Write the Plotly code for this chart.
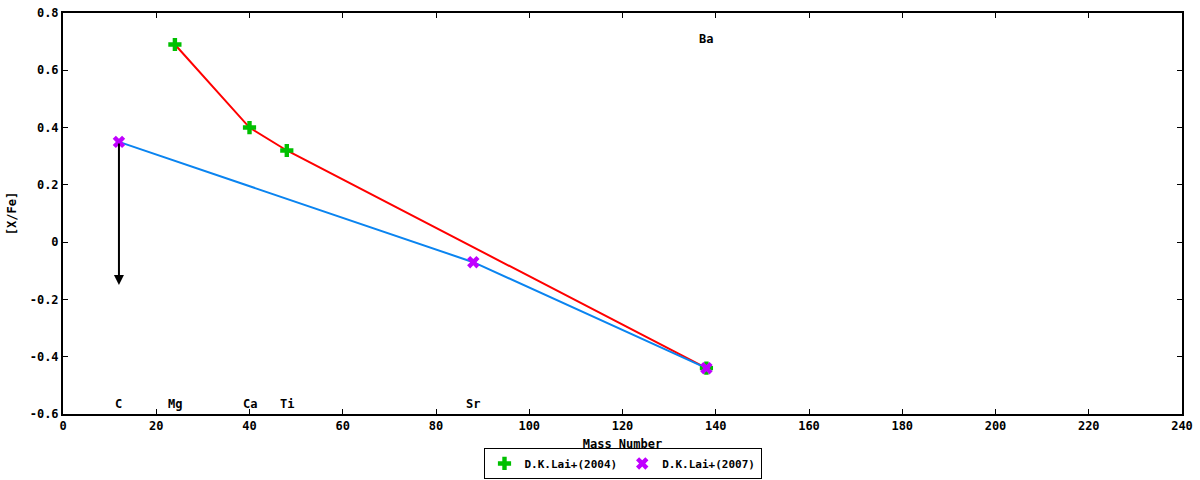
import plotly.graph_objects as go

# Data
lai2004_elements = ["Mg", "Ca", "Ti", "Ba"]
lai2004_mass = [24, 40, 48, 138]
lai2004_xfe = [0.69, 0.40, 0.32, -0.44]

lai2007_elements = ["C", "Sr", "Ba"]
lai2007_mass = [12, 88, 138]
lai2007_xfe = [0.35, -0.07, -0.44]

# upper limit arrow for C
c_limit_mass = 12
c_limit_from = 0.35
c_limit_to = -0.15

label_elements = ["C", "Mg", "Ca", "Ti", "Sr", "Ba"]
label_mass = [12, 24, 40, 48, 88, 138]
label_y = [-0.565, -0.565, -0.565, -0.565, -0.565, 0.71]

y_ticks = [0.8, 0.6, 0.4, 0.2, 0, -0.2, -0.4, -0.6]
y_ticktext = ["0.8", "0.6", "0.4", "0.2", "0", "-0.2", "-0.4", "-0.6"]
x_ticks = list(range(0, 241, 20))

FONT = "DejaVu Sans Mono"
FS = 12

fig = go.Figure()

fig.add_trace(go.Scatter(
    x=lai2004_mass, y=lai2004_xfe, mode="lines",
    line=dict(color="#ff0000", width=2), showlegend=False, hoverinfo="skip"))
fig.add_trace(go.Scatter(
    x=lai2007_mass, y=lai2007_xfe, mode="lines",
    line=dict(color="#0a84f0", width=2), showlegend=False, hoverinfo="skip"))

fig.add_trace(go.Scatter(
    x=lai2004_mass, y=lai2004_xfe, mode="markers", name="<b>D.K.Lai+(2004)</b>",
    marker=dict(symbol="cross", size=11, color="#00c000"),
    text=lai2004_elements))
fig.add_trace(go.Scatter(
    x=lai2007_mass, y=lai2007_xfe, mode="markers", name="<b>D.K.Lai+(2007)</b>",
    marker=dict(symbol="x", size=11, color="#c000ff"),
    text=lai2007_elements))

fig.add_annotation(
    x=c_limit_mass, y=c_limit_to, ax=c_limit_mass, ay=c_limit_from,
    xref="x", yref="y", axref="x", ayref="y",
    showarrow=True, arrowhead=2, arrowsize=1, arrowwidth=2, arrowcolor="black", text="")

for el, mx, my in zip(label_elements, label_mass, label_y):
    fig.add_annotation(x=mx, y=my, xref="x", yref="y", text="<b>%s</b>" % el,
                       showarrow=False, font=dict(family=FONT, size=FS, color="black"))

fig.update_layout(
    width=1200, height=480,
    margin=dict(l=63, r=18, t=13, b=66, autoexpand=False),
    paper_bgcolor="white", plot_bgcolor="white",
    font=dict(family=FONT, size=FS, color="black"),
    legend=dict(orientation="h", x=0.5, xanchor="center", y=-0.162, yanchor="bottom",
                bordercolor="black", borderwidth=1, font=dict(family=FONT, size=11),
                itemwidth=30, tracegroupgap=0),
)
fig.update_xaxes(range=[0, 240], tickvals=x_ticks,
                 ticktext=["<b>%d</b>" % v for v in x_ticks],
                 ticks="inside", ticklen=5, tickcolor="black", tickwidth=1,
                 showline=True, linecolor="black", linewidth=2, mirror="ticks",
                 showgrid=False, zeroline=False, automargin=False,
                 ticklabeloverflow="allow",
                 title=dict(text="<b>Mass Number</b>", standoff=7,
                            font=dict(family=FONT, size=FS)))
fig.update_yaxes(range=[-0.6, 0.8], tickvals=y_ticks,
                 ticktext=["<b>%s</b>" % t for t in y_ticktext],
                 ticks="inside", ticklen=5, tickcolor="black", tickwidth=1,
                 showline=True, linecolor="black", linewidth=2, mirror="ticks",
                 showgrid=False, zeroline=False, automargin=False,
                 ticklabeloverflow="allow",
                 title=dict(text="<b>[X/Fe]</b>", standoff=10,
                            font=dict(family=FONT, size=FS)))

fig.write_html("out.html", config={"displayModeBar": False},
               post_script="document.body.style.margin='0';document.body.style.overflow='hidden';")
